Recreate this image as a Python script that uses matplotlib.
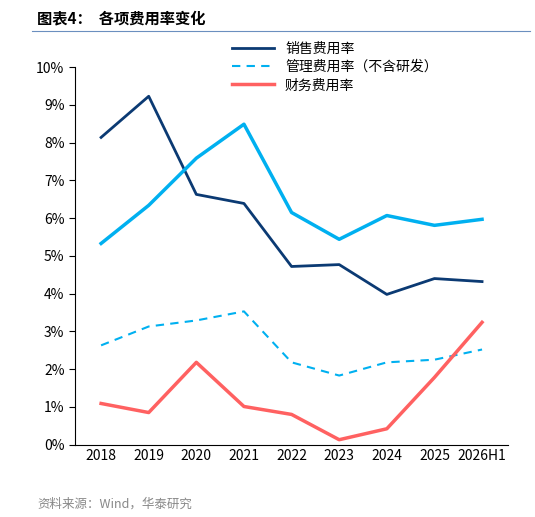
import matplotlib.pyplot as plt
from matplotlib.ticker import PercentFormatter

plt.rcParams['font.family'] = ['Noto Sans CJK SC', 'DejaVu Sans']

years = ['2018', '2019', '2020', '2021', '2022', '2023', '2024', '2025', '2026H1']
sales = [8.14, 9.23, 6.63, 6.39, 4.72, 4.77, 3.98, 4.40, 4.32]
mgmt_total = [5.33, 6.34, 7.59, 8.49, 6.15, 5.44, 6.07, 5.81, 5.97]
mgmt_ex_rd = [2.63, 3.13, 3.29, 3.53, 2.18, 1.83, 2.18, 2.25, 2.52]
finance = [1.09, 0.85, 2.18, 1.01, 0.80, 0.13, 0.42, 1.78, 3.24]

fig = plt.figure(figsize=(5.35, 5.17), dpi=100)
ax = fig.add_axes([0.14, 0.14, 0.81, 0.73])
x = range(len(years))

ax.plot(x, sales, color='#0b3a73', lw=2, label='销售费用率')
ax.plot(x, mgmt_ex_rd, color='#00b0f0', lw=1.5, ls=(0, (4, 3)), label='管理费用率（不含研发）')
ax.plot(x, finance, color='#ff6161', lw=2.5, label='财务费用率')
ax.plot(x, mgmt_total, color='#00b0f0', lw=2.5)

ax.set_ylim(0, 10)
ax.set_yticks(range(0, 11))
ax.yaxis.set_major_formatter(PercentFormatter(decimals=0))
ax.set_xticks(list(x))
ax.set_xticklabels(years)
ax.set_xlim(-0.55, 8.55)
ax.tick_params(labelsize=10, length=0)
ax.tick_params(axis='y', length=4, direction='out')
for s in ['top', 'right']:
    ax.spines[s].set_visible(False)
ax.legend(loc='upper center', bbox_to_anchor=(0.6, 1.1), frameon=False, fontsize=10,
          handlelength=3, labelspacing=0.3)

fig.text(0.07, 0.965, '图表4：  各项费用率变化', fontsize=11, fontweight='bold', va='center')
fig.add_artist(plt.Line2D([0.06, 0.99], [0.94, 0.94], color='#6b8fbf', lw=0.8))
fig.text(0.07, 0.025, '资料来源：Wind，华泰研究', fontsize=9, color='#888888', va='center')

fig.savefig('out.png')
